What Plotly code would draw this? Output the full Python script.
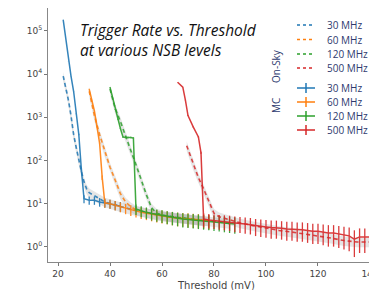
import numpy as np
import plotly.graph_objects as go

# ---------------- data ----------------
labels = ["30 MHz", "60 MHz", "120 MHz", "500 MHz"]
colors = ["#1f77b4", "#ff7f0e", "#2ca02c", "#d62728"]
x_ticks = [20, 40, 60, 80, 100, 120, 140]
y_ticks = [1, 10, 100, 1000, 10000, 100000]
y_tick_text = ["10<sup>0</sup>", "10<sup>1</sup>", "10<sup>2</sup>", "10<sup>3</sup>",
               "10<sup>4</sup>", "10<sup>5</sup>"]

# On-Sky measurements (dashed)
sky_30_x = [22, 23, 24, 25, 26, 27, 28, 29, 30, 31, 32, 34, 36, 38, 40, 44, 48, 52, 56, 60, 64, 68, 72, 76]
sky_30_y = [9e3, 5e3, 2.5e3, 1.1e3, 400, 200, 100, 55, 32, 22, 18, 15, 13, 11, 10,
            8.6, 7.4, 6.5, 5.9, 5.3, 4.9, 4.6, 4.3, 4.0]
sky_60_x = [32, 34, 36, 38, 40, 42, 44, 46, 48, 50, 54, 58, 62, 66, 70, 74, 78]
sky_60_y = [4e3, 1.1e3, 400, 160, 70, 35, 17, 11, 8.5, 7.2, 6.2, 5.5, 5.0, 4.7, 4.4, 4.2, 4.0]
sky_120_x = [40, 42, 44, 46, 48, 50, 52, 54, 56, 58, 62, 66, 70, 74, 78, 82, 86]
sky_120_y = [4.5e3, 1.6e3, 800, 350, 170, 80, 35, 16, 8, 6, 5.2, 4.8, 4.5, 4.2, 4.0, 3.7, 3.5]
sky_500_x = [69.5, 72, 74, 76, 78, 80, 82, 86, 90, 95, 100, 105, 110, 115, 120, 125, 130, 135, 140]
sky_500_y = [220, 80, 40, 22, 12, 6, 5, 4.2, 3.6, 3.1, 2.7, 2.4, 2.2, 2.0, 1.8, 1.6, 1.4, 1.3, 1.3]

# MC simulations (solid with error bars)
mc_30_x = [22, 23, 24, 25, 26, 27, 28, 29, 30, 32, 34, 36, 38, 40, 42, 44]
mc_30_y = [1.8e5, 6e4, 2e4, 9e3, 4e3, 1.2e3, 400, 60, 13, 12, 12, 11, 10.5, 10, 9.3, 8.7]
mc_60_x = [32, 33, 34, 35, 36, 37, 38, 40, 42, 44, 46, 48, 50, 52, 54, 56, 58, 60, 62, 64,
           66, 68, 70, 72, 74, 76, 78]
mc_60_y = [4.5e3, 2.5e3, 1.4e3, 600, 250, 40, 10.5, 10, 9.2, 8.5, 7.8, 7.2, 6.7, 6.3, 6.0,
           5.7, 5.4, 5.2, 5.0, 4.8, 4.6, 4.5, 4.4, 4.3, 4.2, 4.1, 4.0]
mc_120_x = [40, 41, 42, 43, 44, 45, 46, 47, 48, 49, 50, 52, 54, 56, 58, 60, 62, 64, 66, 68,
            70, 72, 74, 76, 78, 80, 82, 84, 86, 88]
mc_120_y = [5e3, 2.8e3, 1.5e3, 900, 550, 350, 340, 340, 340, 330, 7.5, 6.8, 6.3, 5.9, 5.6,
            5.3, 5.0, 4.8, 4.6, 4.4, 4.3, 4.2, 4.1, 4.0, 3.9, 3.8, 3.7, 3.6, 3.5, 3.4]
mc_500_x = [66, 68, 69, 70, 72, 74, 75, 76, 78, 80, 82, 84, 86, 88, 90, 92, 94, 96, 98, 100,
            102, 104, 106, 108, 110, 112, 114, 116, 118, 120, 122, 124, 126, 128, 130, 132,
            134, 136, 138, 140]
mc_500_y = [6.5e3, 5e3, 2.5e3, 1.1e3, 600, 350, 150, 4.4, 4.2, 4.1, 4.0, 3.9, 3.8, 3.6, 3.5,
            3.4, 3.3, 3.1, 3.0, 2.9, 2.8, 2.8, 2.7, 2.6, 2.6, 2.5, 2.5, 2.4, 2.3, 2.3, 2.2,
            2.1, 2.1, 2.0, 1.9, 1.8, 1.5, 1.7, 1.7, 1.7]

sky_series = [(sky_30_x, sky_30_y), (sky_60_x, sky_60_y), (sky_120_x, sky_120_y), (sky_500_x, sky_500_y)]
mc_series = [(mc_30_x, mc_30_y), (mc_60_x, mc_60_y), (mc_120_x, mc_120_y), (mc_500_x, mc_500_y)]

POISSON_K = 0.75       # MC statistical error ~ K*sqrt(rate)
BAND_FRAC = 0.25       # On-Sky uncertainty band (relative)

# ---------------- layout constants ----------------
# the page body has an 8px margin, so the figure is 8px smaller than the window
OFF = 8
W, H = 377 - OFF, 290 - OFF
ML, MT, MB = 40, 0, 28
PW, PH = W - ML, H - MT - MB


def px(xp):  # window pixel x -> paper
    return (xp - OFF - ML) / PW


def py(yp):  # window pixel y -> paper
    return (H - MB - (yp - OFF)) / PH


fig = go.Figure()

# On-Sky uncertainty bands
for (x, y) in sky_series:
    y = np.array(y)
    fig.add_trace(go.Scatter(x=list(x) + list(x)[::-1],
                             y=list(y * (1 + BAND_FRAC)) + list(y * (1 - BAND_FRAC))[::-1],
                             fill="toself", fillcolor="rgba(150,150,150,0.25)",
                             line=dict(width=0), hoverinfo="skip", showlegend=False))

# On-Sky dashed lines
for (x, y), c in zip(sky_series, colors):
    fig.add_trace(go.Scatter(x=x, y=y, mode="lines",
                             line=dict(color=c, width=1.6, dash="4px,3px"),
                             opacity=0.85, showlegend=False))

# MC with error bars
for (x, y), c in zip(mc_series, colors):
    y = np.array(y)
    fig.add_trace(go.Scatter(x=x, y=y, mode="lines",
                             line=dict(color=c, width=1.5),
                             error_y=dict(type="data", array=POISSON_K * np.sqrt(y),
                                          color=c, thickness=1.3, width=0),
                             opacity=0.9, showlegend=False))

# ---------------- custom legend ----------------
shapes = []
annotations = []
navy = "#2e3a6e"
sky_rows = [25, 39.5, 54, 68]
mc_rows = [88, 102, 116, 130]
kx0, kx1, kxm, tx = 297, 315, 306, 325
for lab, c, r in zip(labels, colors, sky_rows):
    shapes.append(dict(type="line", xref="paper", yref="paper", x0=px(kx0), x1=px(kx1),
                       y0=py(r), y1=py(r), line=dict(color=c, width=1.5, dash="3px,3px")))
    annotations.append(dict(text=lab, xref="paper", yref="paper", x=px(tx), y=py(r),
                            xanchor="left", yanchor="middle", showarrow=False,
                            font=dict(family="Open Sans", size=10, color=navy)))
for lab, c, r in zip(labels, colors, mc_rows):
    shapes.append(dict(type="line", xref="paper", yref="paper", x0=px(kx0), x1=px(kx1),
                       y0=py(r), y1=py(r), line=dict(color=c, width=1.5)))
    shapes.append(dict(type="line", xref="paper", yref="paper", x0=px(kxm), x1=px(kxm),
                       y0=py(r - 5), y1=py(r + 5), line=dict(color=c, width=1.5)))
    annotations.append(dict(text=lab, xref="paper", yref="paper", x=px(tx), y=py(r),
                            xanchor="left", yanchor="middle", showarrow=False,
                            font=dict(family="Open Sans", size=10, color=navy)))
annotations.append(dict(text="On-Sky", xref="paper", yref="paper", x=px(285), y=py(47),
                        textangle=-90, showarrow=False,
                        font=dict(family="Open Sans", size=10, color=navy)))
annotations.append(dict(text="MC", xref="paper", yref="paper", x=px(285), y=py(106),
                        textangle=-90, showarrow=False,
                        font=dict(family="Open Sans", size=10, color=navy)))

# chart title
annotations.append(dict(text="<i>Trigger Rate vs. Threshold</i>", xref="paper", yref="paper",
                        x=px(78), y=py(30), xanchor="left", yanchor="middle", showarrow=False,
                        font=dict(family="Open Sans", size=15.5, color="#111")))
annotations.append(dict(text="<i>at various NSB levels</i>", xref="paper", yref="paper",
                        x=px(78), y=py(50), xanchor="left", yanchor="middle", showarrow=False,
                        font=dict(family="Open Sans", size=15.5, color="#111")))
# x-axis title
annotations.append(dict(text="Threshold (mV)", xref="paper", yref="paper",
                        x=px(216), y=py(285), xanchor="center", yanchor="middle",
                        showarrow=False,
                        font=dict(family="DejaVu Sans", size=10, color="#444")))

fig.update_layout(
    width=W, height=H,
    margin=dict(l=ML, r=0, t=MT, b=MB, autoexpand=False),
    paper_bgcolor="white", plot_bgcolor="white",
    showlegend=False,
    shapes=shapes, annotations=annotations,
    xaxis=dict(range=[16.15, 142.7], tickvals=x_ticks, ticks="outside", ticklen=3,
               tickcolor="#777", showline=True, linecolor="#888", linewidth=1, mirror=True,
               showgrid=False, zeroline=False, ticklabeloverflow="allow",
               tickfont=dict(family="DejaVu Sans", size=9, color="#444")),
    yaxis=dict(type="log", range=[-0.35, 5.53], tickvals=y_ticks, ticktext=y_tick_text,
               ticks="outside", ticklen=3, tickcolor="#777", showline=True,
               linecolor="#888", linewidth=1, showgrid=False, zeroline=False,
               tickfont=dict(family="DejaVu Sans", size=9, color="#444")),
)

fig.write_html("out.html")
